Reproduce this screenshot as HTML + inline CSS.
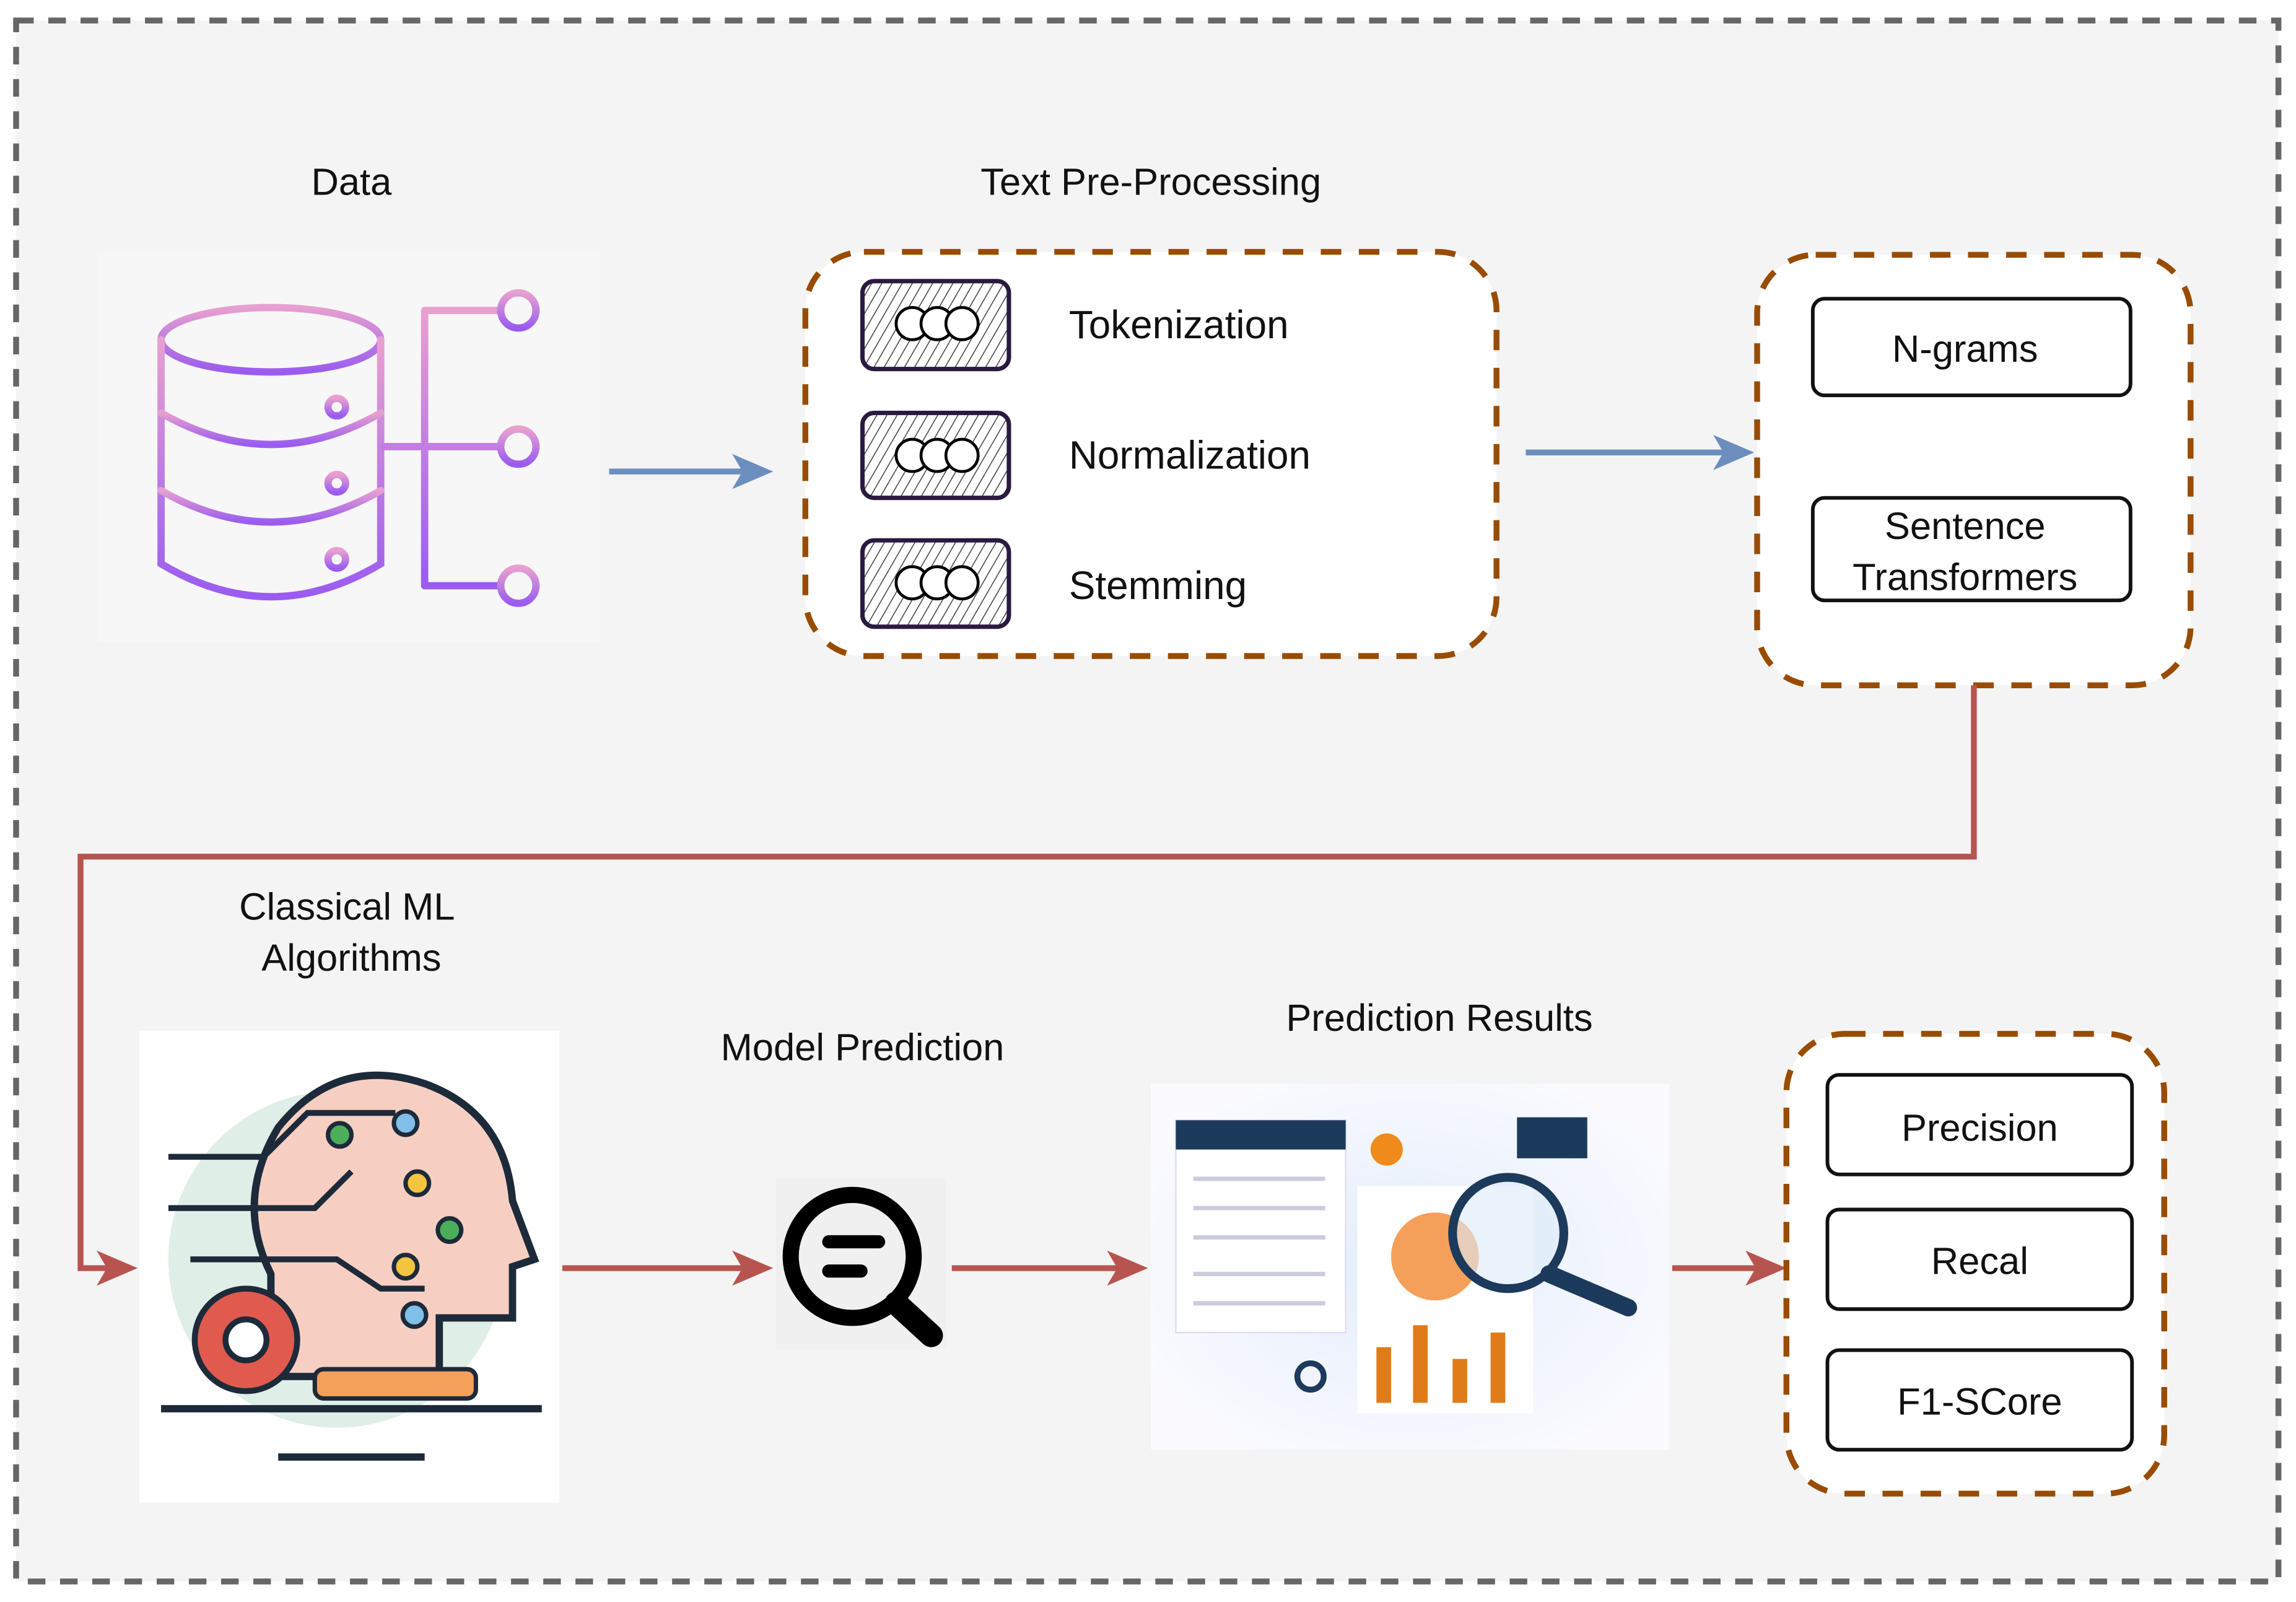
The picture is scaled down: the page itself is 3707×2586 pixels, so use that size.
<!DOCTYPE html>
<html><head><meta charset="utf-8"><style>
html,body{margin:0;padding:0;background:#fff;}
svg{display:block;}
text{font-family:"Liberation Sans",Arial,sans-serif;fill:#111;}
</style></head><body>
<svg width="3707" height="2586" viewBox="0 0 1568 1094" preserveAspectRatio="none" xmlns="http://www.w3.org/2000/svg">
<defs>
<pattern id="h" width="6" height="6" patternUnits="userSpaceOnUse" patternTransform="rotate(30)">
<rect width="6" height="6" fill="#fff"/><line x1="0" y1="0" x2="0" y2="6" stroke="#444" stroke-width="1.3"/></pattern>
<linearGradient id="pg" x1="0" y1="0" x2="0" y2="1"><stop offset="0" stop-color="#e8a0d0"/><stop offset="1" stop-color="#9a5cf0"/></linearGradient>
<radialGradient id="bg2" cx="0.5" cy="0.5" r="0.6"><stop offset="0" stop-color="#e3ecfb"/><stop offset="1" stop-color="#fbfbff"/></radialGradient>
</defs>
<rect x="0" y="0" width="1568" height="1094" fill="#fff"/>
<rect x="11" y="14" width="1545" height="1066" fill="#f4f4f4" stroke="#666" stroke-width="4" stroke-dasharray="12,10"/>

<!-- Data -->
<text x="240" y="133" font-size="26" text-anchor="middle">Data</text>
<rect x="66" y="172" width="344" height="266" fill="#f7f7f7"/>
<g fill="none" stroke="url(#pg)" stroke-width="5" stroke-linecap="round">
<ellipse cx="185" cy="232" rx="75" ry="22"/>
<path d="M110 232 V385 Q185 430 260 385 V232"/>
<path d="M110 282 Q185 325 260 282"/><path d="M110 335 Q185 378 260 335"/>
<line x1="155" y1="283" x2="210" y2="283"/><line x1="155" y1="335" x2="210" y2="335"/><line x1="155" y1="387" x2="210" y2="387"/>
<circle cx="230" cy="278" r="6"/><circle cx="230" cy="330" r="6"/><circle cx="230" cy="382" r="6"/>
<path d="M262 305 H290 M290 212 V400 M290 212 H340 M290 305 H340 M290 400 H340"/>
<circle cx="354" cy="212" r="12"/><circle cx="354" cy="305" r="12"/><circle cx="354" cy="400" r="12"/>
</g>
<line x1="416" y1="322" x2="512" y2="322" stroke="#6c8ebf" stroke-width="4"/>
<polygon points="528,322 500,310 507,322 500,334" fill="#6c8ebf"/>

<!-- Text preprocessing -->
<text x="786" y="133" font-size="26" text-anchor="middle">Text Pre-Processing</text>
<rect x="550" y="172" width="472" height="276" rx="40" fill="#fff" stroke="#994c00" stroke-width="4" stroke-dasharray="14,12"/>
<g stroke="#2a1a40" stroke-width="3">
<rect x="589" y="192" width="100" height="60" rx="8" fill="url(#h)"/>
<rect x="589" y="282" width="100" height="58" rx="8" fill="url(#h)"/>
<rect x="589" y="369" width="100" height="59" rx="8" fill="url(#h)"/>
</g>
<g fill="#fff" stroke="#000" stroke-width="2">
<circle cx="623" cy="221" r="11"/><circle cx="640" cy="221" r="11"/><circle cx="657" cy="221" r="11"/>
<circle cx="623" cy="311" r="11"/><circle cx="640" cy="311" r="11"/><circle cx="657" cy="311" r="11"/>
<circle cx="623" cy="398" r="11"/><circle cx="640" cy="398" r="11"/><circle cx="657" cy="398" r="11"/>
</g>
<text x="730" y="231" font-size="27">Tokenization</text>
<text x="730" y="320" font-size="27">Normalization</text>
<text x="730" y="409" font-size="27">Stemming</text>
<line x1="1042" y1="309" x2="1182" y2="309" stroke="#6c8ebf" stroke-width="4"/>
<polygon points="1198,309 1170,297 1177,309 1170,321" fill="#6c8ebf"/>

<!-- features -->
<rect x="1200" y="174" width="296" height="294" rx="40" fill="#fff" stroke="#994c00" stroke-width="4" stroke-dasharray="14,12"/>
<g fill="#fff" stroke="#111" stroke-width="2.5">
<rect x="1238" y="204" width="217" height="66" rx="8"/>
<rect x="1238" y="340" width="217" height="70" rx="8"/>
<rect x="1248" y="734" width="208" height="68" rx="8"/>
<rect x="1248" y="826" width="208" height="68" rx="8"/>
<rect x="1248" y="922" width="208" height="68" rx="8"/>
</g>
<text x="1342" y="247" font-size="26" text-anchor="middle">N-grams</text>
<text x="1342" y="368" font-size="26" text-anchor="middle">Sentence</text>
<text x="1342" y="403" font-size="26" text-anchor="middle">Transformers</text>

<!-- red connector -->
<polyline points="1348,468 1348,585 55,585 55,866 78,866" fill="none" stroke="#b85450" stroke-width="4"/>
<polygon points="94,866 66,854 73,866 66,878" fill="#b85450"/>

<text x="237" y="628" font-size="26" text-anchor="middle">Classical ML</text>
<text x="240" y="663" font-size="26" text-anchor="middle">Algorithms</text>
<rect x="95" y="704" width="287" height="322" fill="#fff"/>
<circle cx="230" cy="860" r="115" fill="#dfeee6"/>
<path d="M185 940 V870 Q160 820 190 770 Q230 720 290 740 Q345 760 350 820 L365 860 L350 865 V900 H300 V940 Z" fill="#f7cfc2" stroke="#1d2a3a" stroke-width="5"/>
<rect x="215" y="935" width="110" height="20" rx="6" fill="#f5a05a" stroke="#1d2a3a" stroke-width="3"/>
<line x1="110" y1="962" x2="370" y2="962" stroke="#1d2a3a" stroke-width="5"/>
<line x1="190" y1="995" x2="290" y2="995" stroke="#1d2a3a" stroke-width="5"/>
<circle cx="168" cy="915" r="35" fill="#e05a4e" stroke="#1d2a3a" stroke-width="4"/>
<circle cx="168" cy="915" r="14" fill="#fff" stroke="#1d2a3a" stroke-width="4"/>
<g stroke="#1d2a3a" stroke-width="4" fill="none"><path d="M115 790 H180 L210 760 H270 M115 825 H215 L240 800 M130 860 H230 L260 880 H290"/></g>
<circle cx="232" cy="775" r="8" fill="#4cae5a" stroke="#1d2a3a" stroke-width="3"/>
<circle cx="277" cy="767" r="8" fill="#7fbfe8" stroke="#1d2a3a" stroke-width="3"/>
<circle cx="285" cy="808" r="8" fill="#f3c43f" stroke="#1d2a3a" stroke-width="3"/>
<circle cx="307" cy="840" r="8" fill="#4cae5a" stroke="#1d2a3a" stroke-width="3"/>
<circle cx="277" cy="865" r="8" fill="#f3c43f" stroke="#1d2a3a" stroke-width="3"/>
<circle cx="283" cy="898" r="8" fill="#7fbfe8" stroke="#1d2a3a" stroke-width="3"/>

<line x1="384" y1="866" x2="512" y2="866" stroke="#b85450" stroke-width="4"/>
<polygon points="528,866 500,854 507,866 500,878" fill="#b85450"/>
<text x="589" y="724" font-size="26" text-anchor="middle">Model Prediction</text>
<rect x="530" y="805" width="116" height="116" fill="#f0f0f0"/>
<circle cx="582" cy="858" r="42" fill="none" stroke="#000" stroke-width="11"/>
<line x1="612" y1="890" x2="636" y2="912" stroke="#000" stroke-width="16" stroke-linecap="round"/>
<line x1="566" y1="848" x2="600" y2="848" stroke="#000" stroke-width="9" stroke-linecap="round"/>
<line x1="566" y1="868" x2="588" y2="868" stroke="#000" stroke-width="9" stroke-linecap="round"/>
<line x1="650" y1="866" x2="768" y2="866" stroke="#b85450" stroke-width="4"/>
<polygon points="784,866 756,854 763,866 756,878" fill="#b85450"/>

<text x="983" y="704" font-size="26" text-anchor="middle">Prediction Results</text>
<rect x="786" y="740" width="354" height="250" fill="url(#bg2)"/>
<rect x="803" y="765" width="116" height="145" fill="#fff" stroke="#dde" stroke-width="1"/>
<rect x="803" y="765" width="116" height="20" fill="#1c3a5c"/>
<g stroke="#ccd" stroke-width="3"><line x1="815" y1="805" x2="905" y2="805"/><line x1="815" y1="825" x2="905" y2="825"/><line x1="815" y1="845" x2="905" y2="845"/><line x1="815" y1="870" x2="905" y2="870"/><line x1="815" y1="890" x2="905" y2="890"/></g>
<rect x="927" y="810" width="120" height="155" fill="#fff"/>
<circle cx="980" cy="858" r="30" fill="#f5a05a"/>
<rect x="940" y="920" width="10" height="38" fill="#e07b1a"/><rect x="965" y="905" width="10" height="53" fill="#e07b1a"/><rect x="992" y="928" width="10" height="30" fill="#e07b1a"/><rect x="1018" y="910" width="10" height="48" fill="#e07b1a"/>
<circle cx="947" cy="785" r="11" fill="#f08a1a"/>
<rect x="1036" y="763" width="48" height="28" fill="#1c3a5c"/>
<circle cx="1030" cy="842" r="38" fill="rgba(220,235,250,0.6)" stroke="#1c3a5c" stroke-width="6"/>
<line x1="1058" y1="870" x2="1112" y2="893" stroke="#1c3a5c" stroke-width="12" stroke-linecap="round"/>
<circle cx="895" cy="940" r="9" fill="none" stroke="#1c3a5c" stroke-width="4"/>
<line x1="1142" y1="866" x2="1204" y2="866" stroke="#b85450" stroke-width="4"/>
<polygon points="1220,866 1192,854 1199,866 1192,878" fill="#b85450"/>

<!-- metrics -->
<rect x="1220" y="706" width="258" height="314" rx="40" fill="#fff" stroke="#994c00" stroke-width="4" stroke-dasharray="14,12"/>
<g fill="#fff" stroke="#111" stroke-width="2.5">
<rect x="1248" y="734" width="208" height="68" rx="8"/>
<rect x="1248" y="826" width="208" height="68" rx="8"/>
<rect x="1248" y="922" width="208" height="68" rx="8"/>
</g>
<text x="1352" y="779" font-size="26" text-anchor="middle">Precision</text>
<text x="1352" y="870" font-size="26" text-anchor="middle">Recal</text>
<text x="1352" y="966" font-size="26" text-anchor="middle">F1-SCore</text>
</svg>
</body></html>
